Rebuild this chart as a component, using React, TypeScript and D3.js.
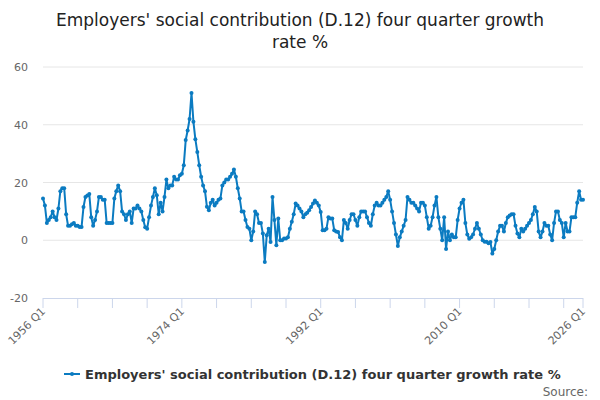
import * as d3 from "d3";

const startYear = 1956;
const values: number[] = [
  14.5, 12, 6, 7, 8, 10, 8, 7, 11, 17, 18, 18, 9, 5, 5, 5.5,
  6, 5, 5, 4.6, 4.6, 11.5, 15, 15.5, 16, 8, 5, 7, 10, 15, 15, 14,
  14, 6, 6, 6, 6, 14.5, 17, 19, 17, 10, 9, 7, 9, 10, 6, 11,
  11, 12, 11, 10, 7, 4.5, 4, 8, 12, 15, 18, 15.6, 9, 13, 10, 15,
  21, 18, 19, 19, 22, 21, 21, 22.5,
  23, 26, 34.7, 38, 42, 51, 41, 35, 30.6, 26, 22, 19, 17, 11.6, 10.4, 13,
  14, 12, 13, 14, 14.5, 19, 20, 21, 21, 22, 23, 24.5, 22, 18, 14.5, 10,
  10, 7, 4.6, 4, 0, 3, 10, 9, 6, 6, 2.3, -7.5, 1.7, 4, -0.6, 15,
  7, -1.7, 7.5, 0, 0, 0.6, 0.6, 1, 4, 6.4, 9, 12.7, 12, 11, 10, 8,
  9, 9.5, 10.4, 11.5, 12.7, 13.8, 13, 12, 9.8, 3.5, 3.5, 4, 8, 7.5, 7.5, 3.5,
  3, 2.9, 1, 0, 7, 6, 4, 7, 9, 9, 7, 5, 8, 10, 10, 10,
  8, 6, 5, 9, 12, 13, 12, 12, 13, 14, 15, 17, 14, 10, 6, 2,
  -2, 1, 3, 5, 7, 15, 14, 13, 13, 12, 11, 10, 13, 13, 12, 8,
  4, 5, 8, 12, 15, 8, 4, 0, 8, -3, 3, 0, 2, 1, 1, 7,
  11, 13, 14, 6, 2, 0.5, 1, 2, 4, 6, 4, 2, 0, -0.5, -0.5, -1,
  -0.6, -4.6, -3, 0, 3, 5, 5, 3, 6, 8, 8.6, 9, 9, 5, 2.3, 1,
  4, 3, 4, 5, 6, 7, 9, 11.5, 10, 3, 1, 3, 6, 5, 5, 2,
  0, 6, 10, 10, 7, 6, 1, 6, 3, 3, 8, 8, 8, 13, 17, 14,
  14,
];
const yTicks = [-20, 0, 20, 40, 60];
const labelTicks = [0, 72, 144, 216, 280];
const minorTicks = d3.range(0, 280, 18).concat([280]);

const quarterLabel = (i: number) => `${startYear + Math.floor(i / 4)} Q${(i % 4) + 1}`;

export default function App() {
  const W = 600, H = 400;
  const x = d3.scaleLinear().domain([0, values.length - 1]).range([43, 583]);
  const y = d3.scaleLinear().domain([-20, 60]).range([298, 67]);
  const line = d3.line<number>().x((_, i) => x(i)).y(d => y(d));
  const font = "'DejaVu Sans', sans-serif";
  const blue = "#0b7bc1";

  return (
    <svg width={W} height={H} style={{ position: "absolute", left: 0, top: 0, fontFamily: font }}>
      <rect width={W} height={H} fill="#fff" />
      <text x={300} y={26} textAnchor="middle" fontSize={17} fill="#222">Employers' social contribution (D.12) four quarter growth</text>
      <text x={300} y={48} textAnchor="middle" fontSize={17} fill="#222">rate %</text>
      {yTicks.map(t => (
        <g key={t}>
          {t !== -20 && <line x1={43} x2={583} y1={y(t)} y2={y(t)} stroke="#e6e6e6" />}
          <text x={28} y={y(t) + 4} textAnchor="end" fontSize={11} fill="#666">{t}</text>
        </g>
      ))}
      <line x1={43} x2={583} y1={298.5} y2={298.5} stroke="#ccd6eb" />
      {minorTicks.map(t => (
        <line key={t} x1={x(t)} x2={x(t)} y1={298} y2={308} stroke="#ccd6eb" />
      ))}
      {labelTicks.map(t => (
        <text key={t} transform={`translate(${x(t) + 3},${312}) rotate(-45)`} textAnchor="end" fontSize={11} fill="#666">{quarterLabel(t)}</text>
      ))}
      <path d={line(values) ?? ""} fill="none" stroke={blue} strokeWidth={2} strokeLinejoin="round" />
      {values.map((v, i) => (
        <circle key={i} cx={x(i)} cy={y(v)} r={2} fill={blue} />
      ))}
      <line x1={64} x2={80} y1={374} y2={374} stroke={blue} strokeWidth={2} />
      <circle cx={72} cy={374} r={2} fill={blue} />
      <text x={85} y={379} fontSize={13} fontWeight="bold" fill="#333">Employers' social contribution (D.12) four quarter growth rate %</text>
      <text x={588} y={396} textAnchor="end" fontSize={12} fill="#666">Source:</text>
    </svg>
  );
}
